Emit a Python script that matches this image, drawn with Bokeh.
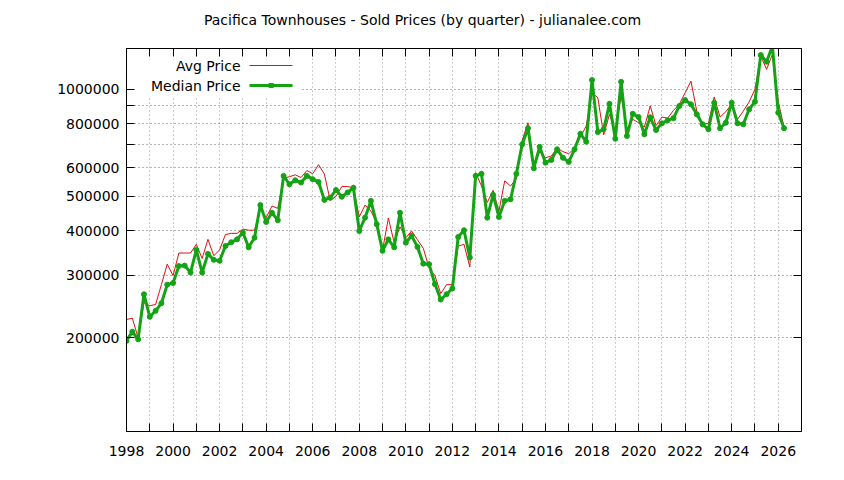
from bokeh.plotting import figure
from bokeh.models import (Range1d, FixedTicker, LinearAxis, LogAxis, Label, Arrow,
                          BoxAnnotation, ColumnDataSource)
from bokeh.embed import file_html
from bokeh.resources import INLINE

# ---------------- data (quarterly, starting 1998 Q1) ----------------
first_year = 1998
avg_price = [
    225000, 227000, 200000, 251000, 246000, 248000, 282000, 322000, 299000, 346000,
    346000, 346000, 366000, 334000, 378000, 340000, 353000, 390000, 393000, 393000,
    404000, 401000, 401000, 462000, 435000, 469000, 462000, 561000, 567000, 574000,
    564000, 590000, 578000, 613000, 577000, 486000, 499000, 532000, 532000, 528000,
    437000, 472000, 454000, 421000, 352000, 434000, 370000, 410000, 382000, 399000,
    377000, 357000, 314000, 299000, 266000, 282000, 282000, 362000, 366000, 316000,
    582000, 534000, 480000, 519000, 454000, 552000, 534000, 560000, 718000, 804000,
    601000, 667000, 641000, 648000, 682000, 667000, 658000, 682000, 733000, 787000,
    976000, 945000, 743000, 849000, 762000, 956000, 771000, 822000, 804000, 782000,
    896000, 789000, 834000, 828000, 871000, 906000, 976000, 1053000, 867000, 799000,
    799000, 950000, 834000, 864000, 906000, 822000, 867000, 920000, 999000, 1238000,
    1136000, 1251000, 925000, 779000,
]
median_price = [
    196000, 208000, 198000, 265000, 229000, 238000, 250000, 282000, 285000, 318000,
    319000, 305000, 353000, 305000, 344000, 331000, 329000, 362000, 371000, 378000,
    395000, 359000, 382000, 472000, 423000, 449000, 428000, 570000, 540000, 554000,
    546000, 570000, 558000, 548000, 488000, 495000, 520000, 498000, 512000, 528000,
    399000, 435000, 485000, 417000, 351000, 378000, 359000, 449000, 370000, 387000,
    360000, 323000, 322000, 283000, 256000, 265000, 275000, 384000, 401000, 336000,
    570000, 578000, 435000, 504000, 437000, 485000, 490000, 578000, 699000, 776000,
    599000, 688000, 621000, 632000, 677000, 641000, 624000, 677000, 749000, 711000,
    1060000, 757000, 771000, 909000, 725000, 1048000, 738000, 852000, 834000, 746000,
    833000, 767000, 801000, 817000, 828000, 896000, 931000, 906000, 849000, 796000,
    771000, 915000, 776000, 804000, 915000, 801000, 796000, 877000, 921000, 1246000,
    1193000, 1320000, 858000, 776000,
]
quarter_x = [first_year + q * 0.25 for q in range(len(median_price))]

y_labeled_ticks = [200000, 300000, 400000, 500000, 600000, 800000, 1000000]
y_unlabeled_ticks = [700000, 900000]
x_labeled_ticks = list(range(1998, 2027, 2))
x_unlabeled_ticks = list(range(1999, 2027, 2))

title_text = "Pacifica Townhouses - Sold Prices (by quarter) - julianalee.com"
series_names = ["Avg Price", "Median Price"]

RED = "#dd1111"
GREEN = "#14a314"
FONT = "DejaVu Sans"

W, H = 840, 476
FL, FT = 126, 48          # frame left / top on the page
FR, FB = 801, 431         # frame right / bottom on the page
X0, X1 = 1998, 2027

p = figure(width=W, height=H, y_axis_type="log",
           x_range=Range1d(X0, X1), y_range=Range1d(109000, 1300000),
           output_backend="svg", toolbar_location=None,
           min_border_left=FL, min_border_right=W - FR,
           min_border_top=FT, min_border_bottom=H - FB)
p.title.text = ""

p.background_fill_color = "white"
p.border_fill_color = "white"
p.outline_line_color = "black"
p.outline_line_width = 1

# axes (bottom / left with labels)
xa = p.xaxis[0]
xa.ticker = FixedTicker(ticks=x_labeled_ticks, minor_ticks=x_unlabeled_ticks)
ya = p.yaxis[0]
ya.ticker = FixedTicker(ticks=y_labeled_ticks, minor_ticks=y_unlabeled_ticks)
ya.major_label_overrides = {t: str(t) for t in y_labeled_ticks}
for ax in (xa, ya):
    ax.major_tick_in = 8
    ax.major_tick_out = 0
    ax.minor_tick_in = 8
    ax.minor_tick_out = 0
    ax.axis_line_color = "black"
    ax.major_tick_line_color = "black"
    ax.minor_tick_line_color = "black"
    ax.major_label_text_font = FONT
    ax.major_label_text_font_size = "14px"
    ax.major_label_text_color = "black"
xa.major_label_standoff = 14
ya.major_label_standoff = 7

# top axis: mirrored year ticks (minor) + the chart title, centred on the page,
# carried as the label of a single invisible major tick
title_pos = X0 + (X1 - X0) * (422.0 - FL) / (FR - FL)
top_ax = LinearAxis(ticker=FixedTicker(ticks=[title_pos],
                                       minor_ticks=x_labeled_ticks + x_unlabeled_ticks))
top_ax.major_label_overrides = {title_pos: title_text}
top_ax.major_tick_in = 0
top_ax.major_tick_out = 0
top_ax.major_tick_line_alpha = 0
top_ax.minor_tick_in = 8
top_ax.minor_tick_out = 0
top_ax.axis_line_color = "black"
top_ax.minor_tick_line_color = "black"
top_ax.major_label_standoff = 21
top_ax.major_label_text_font = FONT
top_ax.major_label_text_font_size = "14px"
top_ax.major_label_text_color = "black"
p.add_layout(top_ax, "above")

# right axis: mirrored value ticks, no labels
right_ax = LogAxis(ticker=FixedTicker(ticks=[], minor_ticks=y_labeled_ticks + y_unlabeled_ticks))
right_ax.major_tick_in = 0
right_ax.major_tick_out = 0
right_ax.minor_tick_in = 8
right_ax.minor_tick_out = 0
right_ax.axis_line_color = "black"
right_ax.minor_tick_line_color = "black"
right_ax.major_label_standoff = 0
p.add_layout(right_ax, "right")

# grid
p.xgrid.ticker = xa.ticker
p.ygrid.ticker = ya.ticker
p.xgrid.grid_line_color = "#9a9a9a"
p.xgrid.minor_grid_line_color = "#9a9a9a"
p.ygrid.grid_line_color = "#6a6a6a"
p.ygrid.minor_grid_line_color = "#6a6a6a"
for g in (p.xgrid[0], p.ygrid[0]):
    g.grid_line_dash = "1 3"
    g.minor_grid_line_dash = "1 3"
    g.grid_line_width = 1
    g.minor_grid_line_width = 1

# data
src = ColumnDataSource(dict(x=quarter_x, avg=avg_price, med=median_price))
p.line("x", "avg", source=src, line_color=RED, line_width=1)
p.line("x", "med", source=src, line_color=GREEN, line_width=3, line_join="round")
p.scatter("x", "med", source=src, size=5, color=GREEN)

# key (gnuplot style: text left, sample right), opaque box
p.add_layout(BoxAnnotation(left=0, right=174, bottom=FB - 96, top=FB - 57,
                           left_units="screen", right_units="screen",
                           bottom_units="screen", top_units="screen",
                           fill_color="white", fill_alpha=1.0, line_alpha=0,
                           level="glyph"))
p.add_layout(Label(x=240 - FL, y=FB - 65, x_units="screen", y_units="screen",
                   text=series_names[0], text_align="right", text_baseline="middle",
                   text_font=FONT, text_font_size="14px", text_color="black"))
p.add_layout(Label(x=240 - FL, y=FB - 85, x_units="screen", y_units="screen",
                   text=series_names[1], text_align="right", text_baseline="middle",
                   text_font=FONT, text_font_size="14px", text_color="black"))
p.add_layout(Arrow(x_start=249 - FL, y_start=FB - 65, x_end=292 - FL, y_end=FB - 65,
                   start_units="screen", end_units="screen", end=None,
                   line_color=RED, line_width=1))
p.add_layout(Arrow(x_start=249 - FL, y_start=FB - 85, x_end=292 - FL, y_end=FB - 85,
                   start_units="screen", end_units="screen", end=None,
                   line_color=GREEN, line_width=3))
p.add_layout(BoxAnnotation(left=270.7 - FL - 2.5, right=270.7 - FL + 2.5,
                           bottom=FB - 85 - 2.5, top=FB - 85 + 2.5,
                           left_units="screen", right_units="screen",
                           bottom_units="screen", top_units="screen",
                           fill_color=GREEN, fill_alpha=1.0, line_alpha=0))

open("out.html", "w").write(file_html(p, INLINE))
